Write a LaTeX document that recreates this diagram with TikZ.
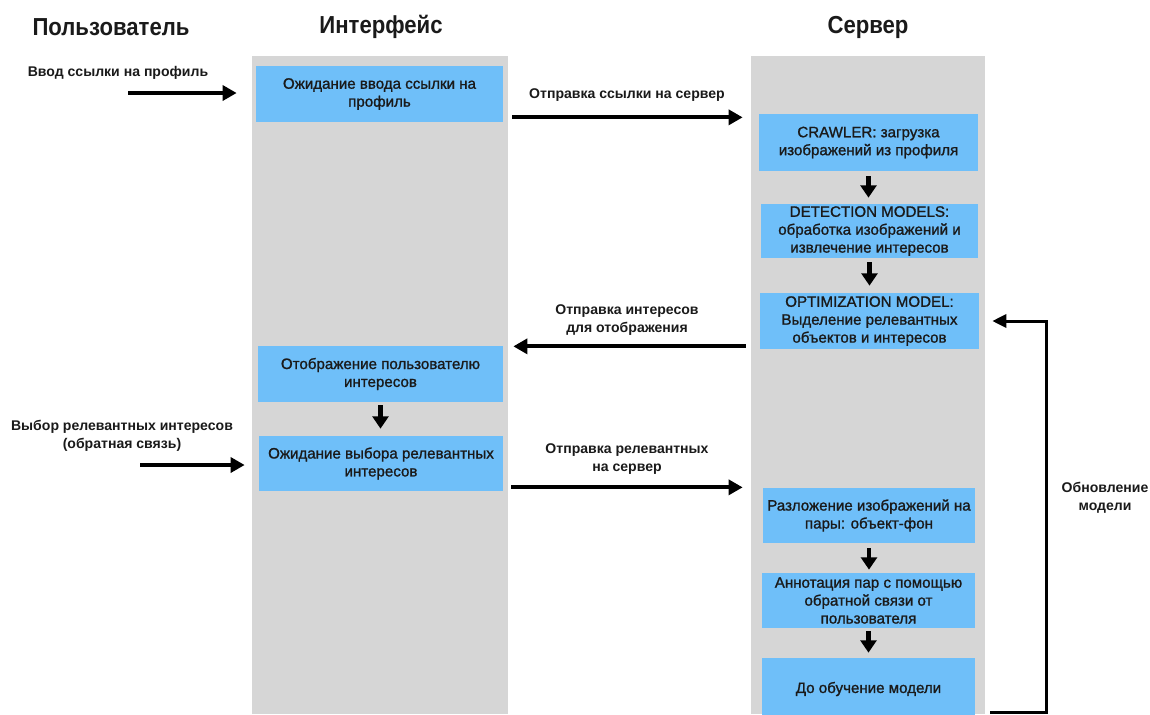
\documentclass[tikz,border=0pt]{standalone}
\usepackage{fontspec}
\setmainfont{Liberation Sans}
\newfontfamily\boxfont[UprightFeatures={FakeBold=1.2}]{Liberation Sans}
\newfontfamily\titlefont[FakeStretch=0.9]{Liberation Sans}
\usetikzlibrary{arrows.meta}
\definecolor{lane}{HTML}{D6D6D6}
\definecolor{stepfill}{HTML}{6FBFF9}
\definecolor{ink}{HTML}{1A1A1A}
\begin{document}
\begin{tikzpicture}[x=0.02cm,y=-0.02cm,
  title/.style={font=\titlefont\bfseries\fontsize{14}{16}\selectfont, text=ink},
  lbl/.style={font=\bfseries\fontsize{8}{10.2}\selectfont, align=center, text=ink},
  stepbox/.style={fill=stepfill, inner sep=0pt, align=center,
    font=\boxfont\fontsize{8.6}{10.2}\selectfont, text=ink},
  arr/.style={line width=2.2pt, draw=black, -{Triangle[length=8pt,width=8.5pt]}},
  downarr/.style={line width=2.5pt, draw=black, -{Triangle[length=7pt,width=9pt]}},
  fbarr/.style={line width=1.7pt, draw=black, -{Triangle[length=8pt,width=7.5pt]}}
]
\useasboundingbox (0,0) rectangle (1150,714);

% swim lanes
\fill[lane] (252,56) rectangle (508,714);
\fill[lane] (751,56) rectangle (985,714);

% lane titles
\node[title] (tuser) at (111,27) {Пользователь};
\node[title] (tui)   at (381,27) {Интерфейс};
\node[title] (tsrv)  at (868,27) {Сервер};

% interface steps
\node[stepbox, minimum width=4.94cm, minimum height=1.12cm] (b1) at (379.5,94)
  {Ожидание ввода ссылки на\\профиль};
\node[stepbox, minimum width=4.90cm, minimum height=1.12cm] (display) at (380.5,374)
  {Отображение пользователю\\интересов};
\node[stepbox, minimum width=4.88cm, minimum height=1.10cm] (wait) at (381,463.5)
  {Ожидание выбора релевантных\\интересов};

% server steps
\node[stepbox, minimum width=4.38cm, minimum height=1.14cm] (crawl) at (868.5,142.5)
  {CRAWLER: загрузка\\изображений из профиля};
\node[stepbox, minimum width=4.34cm, minimum height=1.08cm] (detect) at (869.5,231)
  {DETECTION MODELS:\\обработка изображений и\\извлечение интересов};
\node[stepbox, minimum width=4.38cm, minimum height=1.12cm] (optim) at (869.5,321)
  {OPTIMIZATION MODEL:\\Выделение релевантных\\объектов и интересов};
\node[stepbox, minimum width=4.24cm, minimum height=1.10cm] (decomp) at (869,515.5)
  {Разложение изображений на\\пары: объект-фон};
\node[stepbox, minimum width=4.26cm, minimum height=1.10cm] (annot) at (868.5,600.5)
  {Аннотация пар с помощью\\обратной связи от\\пользователя};
\node[stepbox, minimum width=4.26cm, minimum height=1.24cm] (train) at (868.5,689)
  {До обучение модели};

% labels
\node[lbl] (lin)   at (118,73)  {Ввод ссылки на профиль};
\node[lbl] (lsend) at (627,95)  {Отправка ссылки на сервер};
\node[lbl] (lint)  at (627,320) {Отправка интересов\\для отображения};
\node[lbl] (lsel)  at (122,436) {Выбор релевантных интересов\\(обратная связь)};
\node[lbl] (lrel)  at (627,459) {Отправка релевантных\\на сервер};
\node[lbl] (lupd)  at (1105,498) {Обновление\\модели};

% free ends of connectors
\coordinate (u1) at (128,93);
\coordinate (u2) at (140,465);
\coordinate (s1) at ([xshift=0.18cm,yshift=0.1cm]b1.south east);
\coordinate (r1) at ([xshift=-0.28cm,yshift=0.06cm]optim.south west);
\coordinate (s2) at ([xshift=0.16cm,yshift=0.08cm]wait.south east);
\coordinate (fb0) at (990,712);
\coordinate (fb) at (1046,712);

% horizontal messages
\draw[arr, shorten >=0.38cm] (u1) -- (u1 -| b1.west);
\draw[arr, shorten >=0.32cm] (s1) -- (s1 -| crawl.west);
\draw[arr, shorten >=0.2cm]  (r1) -- (r1 -| display.east);
\draw[arr, shorten >=0.28cm] (u2) -- (u2 -| wait.west);
\draw[arr, shorten >=0.4cm]  (s2) -- (s2 -| decomp.west);

% step sequence arrows
\draw[downarr, shorten <=0.1cm,  shorten >=0.12cm] (crawl.south) -- (crawl.south |- detect.north);
\draw[downarr, shorten <=0.08cm, shorten >=0.14cm] (detect.south) -- (detect.south |- optim.north);
\draw[downarr, shorten <=0.06cm, shorten >=0.14cm] (display.south) -- (display.south |- wait.north);
\draw[downarr, shorten <=0.1cm,  shorten >=0.06cm] (decomp.south) -- (decomp.south |- annot.north);
\draw[downarr, shorten <=0.06cm, shorten >=0.1cm]  (annot.south) -- (annot.south |- train.north);

% model update loop
\draw[fbarr, shorten >=0.26cm] (fb0) -- (fb) |- (optim.east);
\end{tikzpicture}
\end{document}
